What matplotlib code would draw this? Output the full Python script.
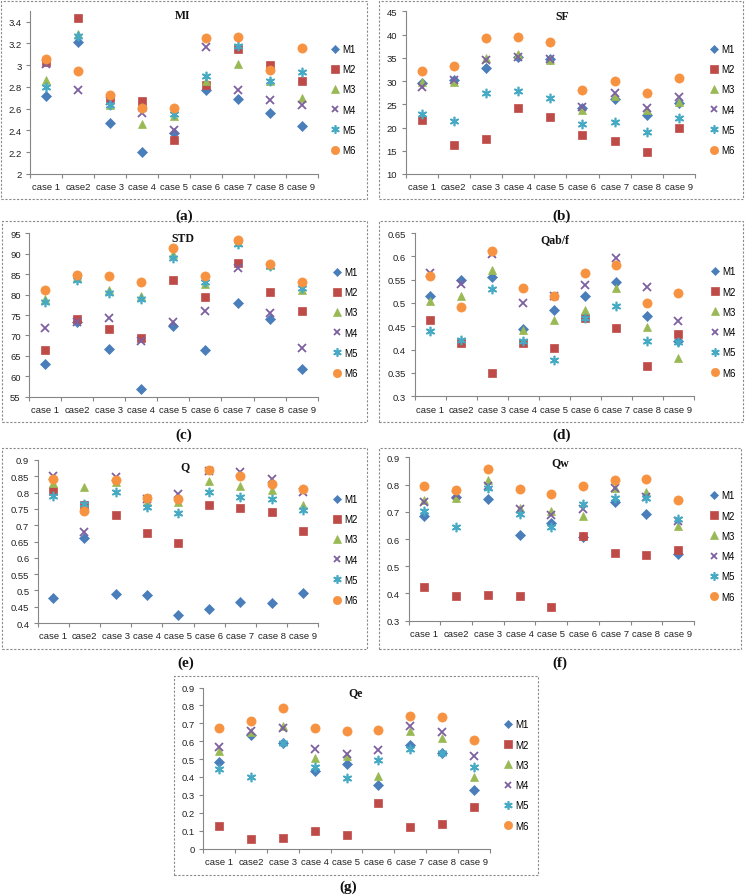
import matplotlib
matplotlib.use("Agg")
import matplotlib.pyplot as plt
from matplotlib.patches import Rectangle
from matplotlib.ticker import FixedLocator, FuncFormatter, NullFormatter

W, H = 746, 895

cases = ["case 1", "case2", "case 3", "case 4", "case 5", "case 6", "case 7", "case 8", "case 9"]
methods = ["M1", "M2", "M3", "M4", "M5", "M6"]

# one row per method (M1..M6), one column per case
mi_vals = [
    [2.72, 3.21, 2.47, 2.20, 2.38, 2.77, 2.69, 2.56, 2.44],
    [3.03, 3.43, 2.70, 2.67, 2.31, 2.82, 3.15, 3.00, 2.85],
    [2.86, 3.29, 2.63, 2.46, 2.53, 2.85, 3.01, 2.85, 2.70],
    [3.01, 2.77, 2.67, 2.56, 2.40, 3.17, 2.77, 2.68, 2.63],
    [2.80, 3.27, 2.63, 2.61, 2.55, 2.90, 3.18, 2.85, 2.94],
    [3.06, 2.95, 2.73, 2.61, 2.61, 3.25, 3.26, 2.96, 3.16],
]
sf_vals = [
    [29.5, 30.2, 32.9, 35.2, 34.8, 24.2, 26.1, 22.6, 25.3],
    [21.6, 16.3, 17.6, 24.3, 22.3, 18.4, 17.2, 14.8, 20.0],
    [29.7, 29.7, 35.0, 35.8, 34.5, 23.7, 26.7, 23.8, 25.4],
    [28.8, 30.2, 34.6, 35.2, 34.7, 24.4, 27.4, 24.1, 26.6],
    [22.9, 21.4, 27.4, 27.9, 26.3, 20.8, 21.1, 19.1, 22.1],
    [32.2, 33.2, 39.3, 39.5, 38.5, 28.0, 30.0, 27.5, 30.6],
]
std_vals = [
    [62.9, 73.2, 66.7, 56.9, 72.3, 66.4, 77.9, 74.1, 61.7],
    [66.4, 74.1, 71.6, 69.3, 83.5, 79.3, 87.7, 80.6, 76.1],
    [78.9, 84.2, 81.2, 79.6, 89.9, 82.6, 92.8, 87.2, 81.0],
    [71.8, 73.4, 74.2, 68.7, 73.4, 76.1, 86.6, 75.6, 66.8],
    [78.1, 83.6, 80.3, 78.9, 88.9, 83.0, 92.4, 87.0, 81.6],
    [81.2, 84.9, 84.5, 83.2, 91.5, 84.6, 93.4, 87.5, 83.2],
]
qabf_vals = [
    [0.514, 0.550, 0.555, 0.444, 0.486, 0.514, 0.545, 0.473, 0.418],
    [0.464, 0.414, 0.349, 0.414, 0.403, 0.468, 0.446, 0.364, 0.434],
    [0.504, 0.516, 0.571, 0.442, 0.464, 0.485, 0.532, 0.448, 0.382],
    [0.564, 0.541, 0.604, 0.501, 0.514, 0.538, 0.596, 0.534, 0.462],
    [0.441, 0.421, 0.529, 0.419, 0.377, 0.468, 0.494, 0.419, 0.416],
    [0.557, 0.492, 0.612, 0.532, 0.514, 0.564, 0.582, 0.501, 0.521],
]
q_vals = [
    [0.476, 0.660, 0.488, 0.485, 0.425, 0.443, 0.464, 0.461, 0.492],
    [0.804, 0.762, 0.730, 0.675, 0.646, 0.763, 0.752, 0.742, 0.682],
    [0.828, 0.818, 0.831, 0.770, 0.770, 0.837, 0.821, 0.809, 0.762],
    [0.852, 0.680, 0.847, 0.780, 0.796, 0.867, 0.864, 0.842, 0.801],
    [0.791, 0.765, 0.801, 0.755, 0.736, 0.803, 0.788, 0.780, 0.747],
    [0.843, 0.745, 0.839, 0.784, 0.781, 0.869, 0.851, 0.825, 0.811],
]
qw_vals = [
    [0.686, 0.753, 0.746, 0.616, 0.657, 0.607, 0.735, 0.691, 0.545],
    [0.423, 0.390, 0.396, 0.390, 0.350, 0.612, 0.550, 0.542, 0.561],
    [0.744, 0.750, 0.815, 0.713, 0.704, 0.683, 0.787, 0.772, 0.646],
    [0.737, 0.763, 0.796, 0.710, 0.688, 0.711, 0.787, 0.753, 0.667],
    [0.704, 0.643, 0.787, 0.691, 0.643, 0.729, 0.750, 0.750, 0.673],
    [0.794, 0.780, 0.856, 0.784, 0.766, 0.793, 0.817, 0.820, 0.745],
]
qe_vals = [
    [0.486, 0.635, 0.590, 0.436, 0.475, 0.356, 0.579, 0.534, 0.327],
    [0.126, 0.052, 0.059, 0.100, 0.074, 0.256, 0.121, 0.137, 0.232],
    [0.547, 0.653, 0.683, 0.505, 0.519, 0.404, 0.655, 0.616, 0.399],
    [0.566, 0.659, 0.672, 0.557, 0.527, 0.553, 0.686, 0.651, 0.519],
    [0.442, 0.400, 0.588, 0.456, 0.393, 0.497, 0.557, 0.534, 0.453],
    [0.672, 0.712, 0.785, 0.672, 0.655, 0.660, 0.738, 0.737, 0.608],
]

COLORS = ["#4A7EBB", "#BE4B48", "#98B954", "#7D60A0", "#46AAC5", "#F69240"]
MARKERS = [("D", 5.0, 0.5), ("s", 5.8, 0.5), ("^", 6.2, 0.5),
           ("x", 5.2, 1.3), ((6, 2, 0), 6.8, 1.2), ("o", 6.6, 0.5)]

SANS = "Liberation Sans"
SERIF = "Liberation Serif"


def fx(px):
    return px / W


def fy(py):
    return 1 - py / H


def add_panel(fig, values, title, ylim, ystep, axes_px, box_px, title_xy,
              label, label_xy, legend_xy):
    left, top, right, bottom = axes_px
    ax = fig.add_axes([fx(left), fy(bottom), (right - left) / W, (bottom - top) / H])

    # dashed frame round the chart
    bl, bt, br, bb = box_px
    fig.add_artist(Rectangle((fx(bl), fy(bb)), (br - bl) / W, (bb - bt) / H,
                             transform=fig.transFigure, fill=False,
                             edgecolor="#8a8a8a", linewidth=0.8,
                             linestyle=(0, (2.0, 1.5))))

    x = list(range(len(cases)))
    for i, name in enumerate(methods):
        marker, ms, mew = MARKERS[i]
        ax.plot(x, values[i], linestyle="none", marker=marker, markersize=ms,
                markerfacecolor=COLORS[i], markeredgecolor=COLORS[i],
                markeredgewidth=mew, label=name, zorder=3 + i)

    ax.set_xlim(-0.5, len(cases) - 0.5)
    ax.set_ylim(*ylim)
    n = int(round((ylim[1] - ylim[0]) / ystep))
    yt = [ylim[0] + k * ystep for k in range(n + 1)]
    if yt[-1] > ylim[1] + 1e-9:
        yt = yt[:-1]
    ax.yaxis.set_major_locator(FixedLocator(yt))
    ax.yaxis.set_major_formatter(FuncFormatter(lambda v, p: f"{round(v, 3):g}"))

    ax.xaxis.set_major_locator(FixedLocator(x))
    ax.set_xticklabels(cases)
    ax.xaxis.set_minor_locator(FixedLocator([k - 0.5 for k in range(len(cases) + 1)]))
    ax.xaxis.set_minor_formatter(NullFormatter())

    for s in ("top", "right"):
        ax.spines[s].set_visible(False)
    for s in ("left", "bottom"):
        ax.spines[s].set_color("#868686")
        ax.spines[s].set_linewidth(0.8)

    ax.tick_params(axis="x", which="major", length=0, pad=6,
                   labelsize=6.8, labelcolor="#222222")
    ax.tick_params(axis="x", which="minor", length=3, width=0.8, color="#868686",
                   direction="out")
    ax.tick_params(axis="y", length=3, width=0.8, color="#868686", direction="out",
                   labelsize=6.8, labelcolor="#222222", pad=3)
    for t in ax.get_xticklabels() + ax.get_yticklabels():
        t.set_fontfamily(SANS)
    ax.patch.set_alpha(0)

    fig.text(fx(title_xy[0]), fy(title_xy[1]), title, ha="center", va="center",
             family=SERIF, weight="bold", fontsize=8.5, color="#111111")
    fig.text(fx(label_xy[0]), fy(label_xy[1]), label, ha="center", va="center",
             family=SERIF, weight="bold", fontsize=11, color="#111111")

    ax.legend(loc="center left", bbox_to_anchor=(fx(legend_xy[0] - 4), fy(legend_xy[1])),
              bbox_transform=fig.transFigure, frameon=False,
              prop={"family": SANS, "size": 7}, handlelength=0.9,
              handletextpad=0.25, labelspacing=1.05, borderpad=0,
              borderaxespad=0, numpoints=1, markerscale=0.9)
    return ax


fig = plt.figure(figsize=(W / 100, H / 100), dpi=100)

add_panel(fig, mi_vals, "MI", (2, 3.5), 0.2,
          (30, 11.75, 317.5, 175), (1, 2, 367, 200), (183, 16), "(a)", (184, 216), (335, 100.5))
add_panel(fig, sf_vals, "SF", (10, 45), 5,
          (405.6, 12.3, 695, 175), (379, 2, 743, 200), (562, 17), "(b)", (562, 216), (714, 100.5))
add_panel(fig, std_vals, "STD", (55, 95), 5,
          (29, 234.3, 317.7, 397.7), (2, 222, 367, 423), (183, 239), "(c)", (184, 435), (337, 323.5))
add_panel(fig, qabf_vals, "Qab/f", (0.3, 0.65), 0.05,
          (414.5, 234, 693.8, 397.3), (379, 222, 743, 423), (555, 240), "(d)", (562, 435), (715, 323))
add_panel(fig, q_vals, "Q", (0.4, 0.9), 0.05,
          (37.7, 461, 318.3, 624), (2, 449, 367, 650), (185, 466.7), "(e)", (186, 663), (337, 550.5))
add_panel(fig, qw_vals, "Qw", (0.3, 0.9), 0.1,
          (408.5, 458.3, 694, 621.7), (379, 449, 741, 650), (560, 463), "(f)", (560, 663), (714, 547))
add_panel(fig, qe_vals, "Qe", (0, 0.9), 0.1,
          (203.4, 688.5, 489.6, 849.5), (174, 677, 538, 876), (356, 693.3), "(g)", (348, 887), (508, 776))

fig.savefig("out.png", dpi=100)
